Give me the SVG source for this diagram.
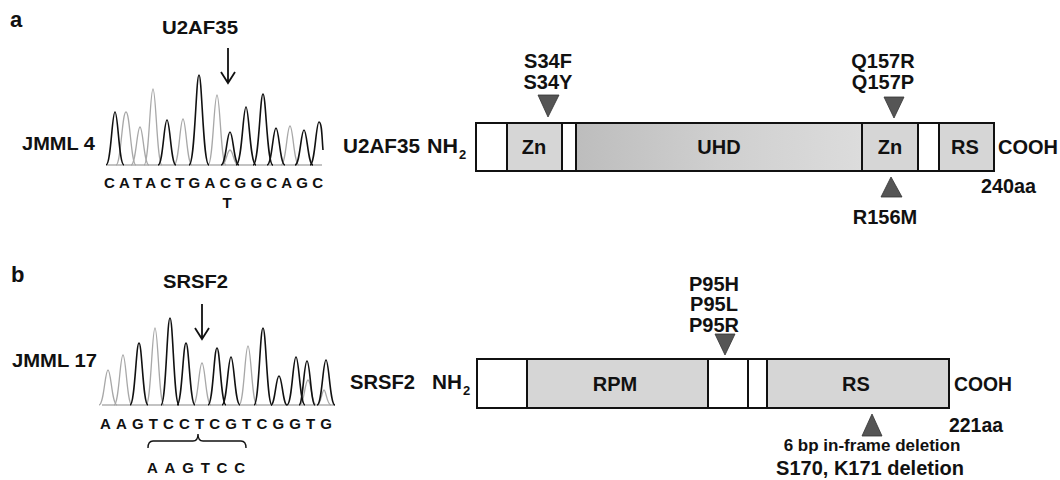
<svg xmlns="http://www.w3.org/2000/svg" width="1060" height="480" viewBox="0 0 1060 480">
<style>
text{font-family:"Liberation Sans",Arial,sans-serif;font-weight:bold;fill:#111}
.lbl{font-size:20px}
.big{font-size:22px}
.seq{font-size:15px}
.box{stroke:#111;stroke-width:2}
.w{fill:#fff}
.g{fill:#d6d6d6}
.pk{fill:none;stroke:#111;stroke-width:1.6;stroke-linejoin:round}
.pg{fill:none;stroke:#a8a8a8;stroke-width:1.3;stroke-linejoin:round}
.tri{fill:#555;stroke:#333;stroke-width:0.8}
.arr{fill:none;stroke:#111;stroke-width:1.8}
</style>
<defs>
<linearGradient id="uhd" x1="0" x2="1" y1="0" y2="0">
<stop offset="0" stop-color="#bdbdbd"/>
<stop offset="0.5" stop-color="#cfcfcf"/>
<stop offset="1" stop-color="#dcdcdc"/>
</linearGradient>
</defs>
<rect width="1060" height="480" fill="#fff"/>

<g id="panel-a-label"><text class="big" x="10" y="27">a</text></g>
<g id="panel-b-label"><text class="big" x="11" y="282">b</text></g>

<!-- Panel a chromatogram -->
<g id="chrom-a">
<text x="162" y="34" textLength="76" lengthAdjust="spacingAndGlyphs" style="font-size:18px">U2AF35</text>
<text x="22" y="150" textLength="73" lengthAdjust="spacingAndGlyphs" style="font-size:18px">JMML 4</text>
<line x1="107" y1="165" x2="322" y2="165" stroke="#888" stroke-width="1.2"/>
<path class="pg" d="M116,165 C121,165 122,112 126,112 C130,112 131,165 136,165"/>
<path class="pg" d="M131,165 C136,165 137,127 140,127 C143,127 144,165 149,165"/>
<path class="pg" d="M144,165 C149,165 150,89 153,89 C156,89 157,165 162,165"/>
<path class="pg" d="M174,165 C179,165 180,119 183,119 C186,119 187,165 192,165"/>
<path class="pg" d="M208,165 C213,165 214,95 217,95 C220,95 221,165 226,165"/>
<path class="pg" d="M222,165 C226,165 227,150 230,150 C233,150 234,165 238,165"/>
<path class="pg" d="M281,165 C286,165 287,126 290,126 C293,126 294,165 299,165"/>
<path class="pk" d="M106,165 C111,165 112,112 115,112 C118,112 119,165 124,165"/>
<path class="pk" d="M158,165 C163,165 164,120 167,120 C170,120 171,165 176,165"/>
<path class="pk" d="M189,165 C195,165 196,75 199,75 C202,75 203,165 209,165"/>
<path class="pk" d="M221,165 C226,165 227,132 230,132 C233,132 234,165 239,165"/>
<path class="pk" d="M236,165 C242,165 243,107 246,107 C249,107 250,165 256,165"/>
<path class="pk" d="M253,165 C259,165 260,94 263,94 C266,94 267,165 273,165"/>
<path class="pk" d="M267,165 C272,165 273,128 276,128 C279,128 280,165 285,165"/>
<path class="pk" d="M295,165 C300,165 301,130 304,130 C307,130 308,165 313,165"/>
<path class="pk" d="M310,165 C315,165 316,122 319,122 C322,122 322,140 323,150"/>
<text class="seq" x="104" y="188" textLength="219" lengthAdjust="spacing">CATACTGACGGCAGC</text>
<text class="seq" x="227" y="208" text-anchor="middle">T</text>
</g>

<!-- Panel b chromatogram -->
<g id="chrom-b">
<text x="163" y="288" textLength="65" lengthAdjust="spacingAndGlyphs" style="font-size:18px">SRSF2</text>
<text x="12" y="367" textLength="85" lengthAdjust="spacingAndGlyphs" style="font-size:18px">JMML 17</text>
<line x1="102" y1="405" x2="335" y2="405" stroke="#888" stroke-width="1.2"/>
<path class="pg" d="M99,405 C104,405 105,370 108,370 C111,370 112,405 117,405"/>
<path class="pg" d="M114,405 C119,405 120,355 123,355 C126,355 127,405 132,405"/>
<path class="pg" d="M146,405 C151,405 152,328 155,328 C158,328 159,405 164,405"/>
<path class="pg" d="M193,405 C198,405 199,363 202,363 C205,363 206,405 211,405"/>
<path class="pg" d="M239,405 C244,405 245,346 248,346 C251,346 252,405 257,405"/>
<path class="pg" d="M300,405 C304,405 305,380 308,380 C311,380 312,405 316,405"/>
<path class="pg" d="M317,405 C321,405 322,390 324,390 C326,390 327,405 331,405"/>
<path class="pk" d="M130,405 C135,405 136,343 139,343 C142,343 143,405 148,405"/>
<path class="pk" d="M161,405 C166,405 167,318 170,318 C173,318 174,405 179,405"/>
<path class="pk" d="M177,405 C182,405 183,343 186,343 C189,343 190,405 195,405"/>
<path class="pk" d="M208,405 C213,405 214,348 217,348 C220,348 221,405 226,405"/>
<path class="pk" d="M222,405 C227,405 228,357 231,357 C234,357 235,405 240,405"/>
<path class="pk" d="M254,405 C259,405 260,328 263,328 C266,328 267,405 272,405"/>
<path class="pk" d="M271,405 C275,405 276,376 279,376 C282,376 283,405 287,405"/>
<path class="pk" d="M287,405 C292,405 293,357 296,357 C299,357 300,405 305,405"/>
<path class="pk" d="M299,405 C303,405 304,361 307,361 C310,361 311,405 315,405"/>
<path class="pk" d="M317,405 C322,405 323,360 326,360 C329,360 330,405 335,405"/>
<text class="seq" x="100" y="429" textLength="232" lengthAdjust="spacing">AAGTCCTCGTCGGTG</text>
<path d="M148,448 Q148,441 153,441 L193,441 Q198,441 198,434 Q198,441 203,441 L241,441 Q246,441 246,448" fill="none" stroke="#111" stroke-width="1.4"/>
<text class="seq" x="147" y="473" textLength="98" lengthAdjust="spacing">AAGTCC</text>
</g>

<!-- U2AF35 protein -->
<g id="u2af35-protein">
<text class="lbl" x="343" y="153" textLength="77" lengthAdjust="spacingAndGlyphs">U2AF35</text>
<text class="lbl" x="427" y="153" textLength="31" lengthAdjust="spacingAndGlyphs">NH</text>
<text x="459" y="159" style="font-size:13px">2</text>
<rect class="box w" x="476" y="123" width="518" height="48"/>
<rect class="box g" x="507" y="123" width="55" height="48"/>
<rect class="box" x="576" y="123" width="286" height="48" fill="url(#uhd)"/>
<rect class="box g" x="862" y="123" width="56" height="48"/>
<rect class="box g" x="939" y="123" width="55" height="48"/>
<text class="lbl" x="534" y="154" text-anchor="middle">Zn</text>
<text class="lbl" x="719" y="154" text-anchor="middle">UHD</text>
<text class="lbl" x="890" y="154" text-anchor="middle">Zn</text>
<text class="lbl" x="965" y="154" text-anchor="middle">RS</text>
<text class="lbl" x="998" y="154" textLength="60" lengthAdjust="spacingAndGlyphs">COOH</text>
<text class="lbl" x="981" y="193" textLength="55" lengthAdjust="spacingAndGlyphs">240aa</text>
<text class="lbl" x="548" y="68" text-anchor="middle">S34F</text>
<text class="lbl" x="548" y="89" text-anchor="middle">S34Y</text>
<text class="lbl" x="883" y="68" text-anchor="middle">Q157R</text>
<text class="lbl" x="883" y="89" text-anchor="middle">Q157P</text>
<text class="lbl" x="885" y="224" text-anchor="middle">R156M</text>
</g>

<!-- SRSF2 protein -->
<g id="srsf2-protein">
<text class="lbl" x="350" y="389" textLength="65" lengthAdjust="spacingAndGlyphs">SRSF2</text>
<text class="lbl" x="432" y="389" textLength="30" lengthAdjust="spacingAndGlyphs">NH</text>
<text x="463" y="395" style="font-size:13px">2</text>
<rect class="box w" x="477" y="359" width="472" height="49"/>
<rect class="box g" x="527" y="359" width="181" height="49"/>
<rect class="box w" x="748" y="359" width="19" height="49"/>
<rect class="box g" x="767" y="359" width="182" height="49"/>
<text class="lbl" x="615" y="391" text-anchor="middle">RPM</text>
<text class="lbl" x="856" y="391" text-anchor="middle">RS</text>
<text class="lbl" x="954" y="391" textLength="58" lengthAdjust="spacingAndGlyphs">COOH</text>
<text class="lbl" x="949" y="432" textLength="54" lengthAdjust="spacingAndGlyphs">221aa</text>
<text class="lbl" x="714" y="291" text-anchor="middle">P95H</text>
<text class="lbl" x="714" y="311" text-anchor="middle">P95L</text>
<text class="lbl" x="714" y="332" text-anchor="middle">P95R</text>
<text x="872" y="451" text-anchor="middle" style="font-size:17px">6 bp in-frame deletion</text>
<text class="lbl" x="870" y="475" text-anchor="middle">S170, K171 deletion</text>
</g>

<g id="connectors">
<path class="arr" d="M228,48 L228,83 M221,72 L228,83 L235,72"/>
<path class="arr" d="M202,304 L202,339 M195,328 L202,339 L209,328"/>
<polygon class="tri" points="538,95 559,95 548,117"/>
<polygon class="tri" points="884,97 904,97 894,118"/>
<polygon class="tri" points="881,197 902,197 891,177"/>
<polygon class="tri" points="715,334 735,334 725,355"/>
<polygon class="tri" points="862,436 882,436 872,414"/>
</g>
</svg>
